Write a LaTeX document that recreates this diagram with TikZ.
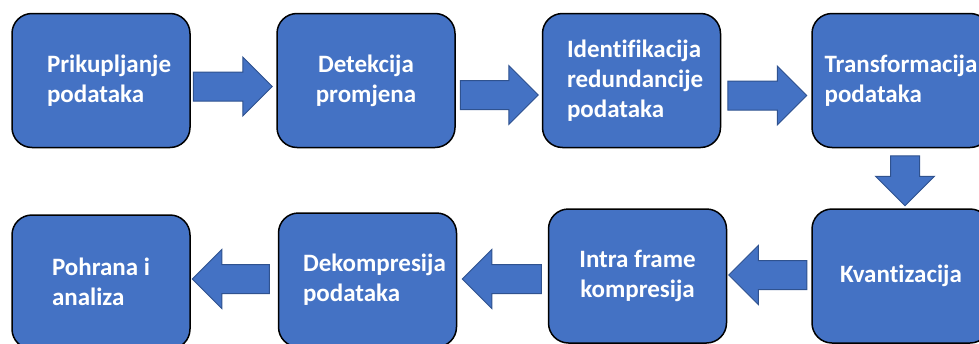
\documentclass[tikz,border=0pt]{standalone}
\usepackage{fontspec}
\setmainfont{Carlito}[Ligatures=NoCommon]
\usetikzlibrary{calc,shapes.arrows}

\definecolor{boxblue}{HTML}{4472C4}
\definecolor{edgeblue}{HTML}{2F528F}

\tikzset{
  stage/.style={draw=black, line width=1.5pt, fill=boxblue, rounded corners=20pt,
    minimum width=178pt, minimum height=134pt, inner sep=0pt, text=white,
    font=\fontsize{25}{30}\selectfont\bfseries, align=left,
    execute at begin node={\hyphenpenalty=10000\relax}},
  fatarrow/.style={single arrow, draw=edgeblue, line width=1pt, fill=boxblue,
    inner xsep=0pt, inner ysep=14pt, single arrow head extend=15pt,
    minimum height=#1, anchor=tail},
}

\begin{document}
\begin{tikzpicture}[x=1pt, y=-1pt]

   \path[use as bounding box, clip] (0,0) rectangle (979,343);

   \def\yt{80.5} % top row
   \def\yb{276} % bottom row

   % top row, left to right
   \node[stage, text width=108pt] (collect) at (101, \yt) {Prikupljanje\\podataka};
   \node[stage, align=center] (detect) at (366, \yt) {Detekcija\\promjena};
   \node[stage, text width=129pt] (redund) at (631.5, \yt) {Identifikacija\\redundancije\\podataka};
   \node[stage] (transf) at (901, \yt) {Transformacija\\podataka};

   % bottom row, right to left
   \node[stage] (quant) at (901, \yb) {Kvantizacija};
   \node[stage, align=center] (intra) at (637.5, \yb) {Intra frame\\kompresija};
   \node[stage, text width=129pt] (decomp) at (367.5, \yb + 4) {Dekompresija\\podataka};
   \node[stage] (store) at (101, \yb + 6) {Pohrana i\\analiza};

   % block arrows, placed by their tails
   \node[fatarrow=79pt] (a1) at ($(collect.east) + (2, 6)$) {};
   \node[fatarrow=78pt] (a2) at ($(detect.east) + (4, 14.5)$) {};
   \node[fatarrow=79pt] (a3) at ($(redund.east) + (6, 15)$) {};
   \node[fatarrow=50pt, rotate=-90] (a4) at ($(transf.south) + (4, 7)$) {};
   \node[fatarrow=78pt, shape border rotate=180] (a5) at ($(quant.west) + (-4, -1)$) {};
   \node[fatarrow=79pt, shape border rotate=180] (a6) at ($(intra.west) + (-6, 3)$) {};
   \node[fatarrow=77pt, shape border rotate=180] (a7) at ($(decomp.west) + (-8, -1)$) {};

\end{tikzpicture}
\end{document}
